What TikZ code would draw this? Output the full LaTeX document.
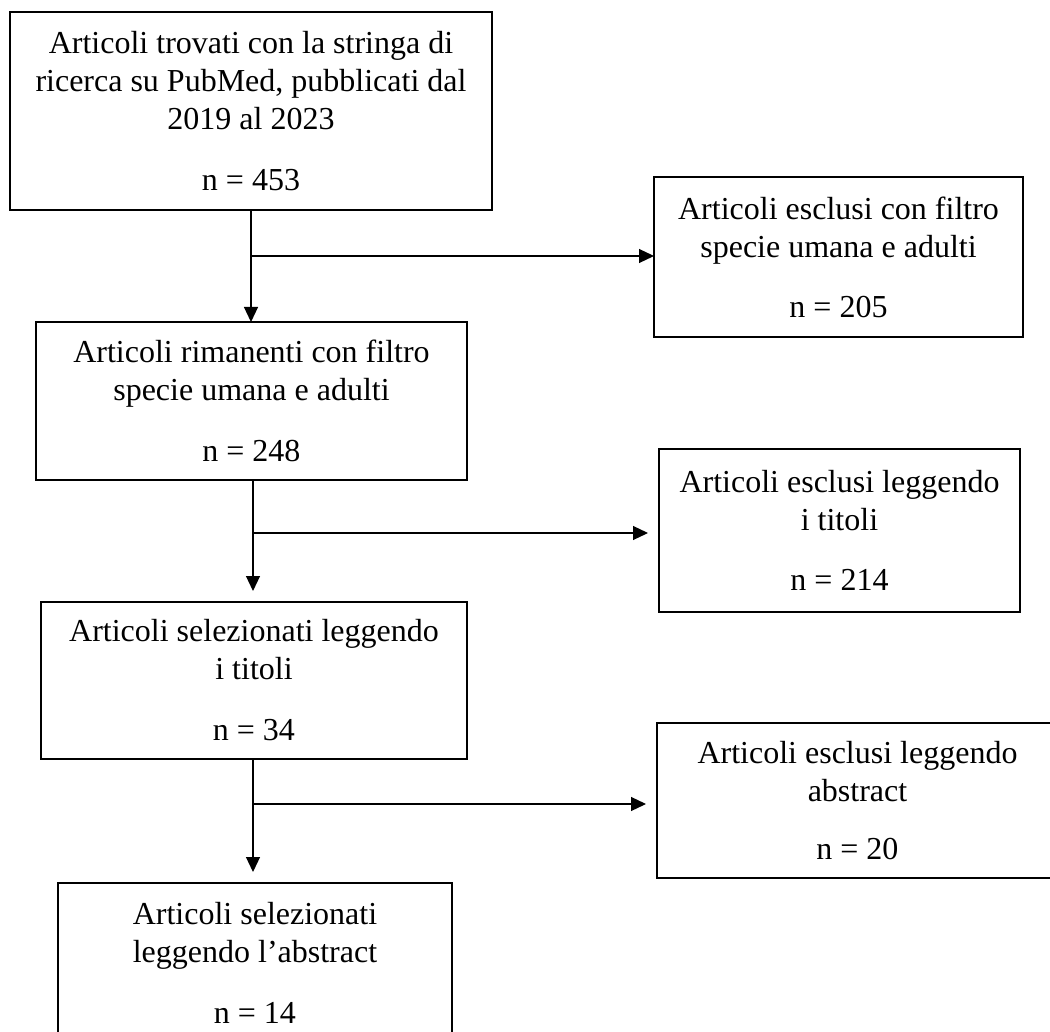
\documentclass[tikz,border=0pt]{standalone}
\usepackage{fontspec}
\setmainfont{Liberation Serif}
\usetikzlibrary{arrows.meta}
\begin{document}
\begin{tikzpicture}[x=0.5pt,y=-0.5pt,
  box/.style={draw=black, line width=1pt, inner sep=0pt, outer sep=0pt, align=center,
    font=\fontsize{16}{19}\selectfont},
  arr/.style={line width=0.6pt, -{Triangle[length=7.5pt,width=7pt]}},
  gap/.style={shorten >=5.5pt}]
\clip (0,0) rectangle (1050,1032);
\node[box, minimum width=241pt, minimum height=99pt] (b1) at (251,111)
  {Articoli trovati con la stringa di\\ricerca su PubMed, pubblicati dal\\2019 al 2023\\[11.5pt]n = 453};
\node[box, minimum width=184.5pt, minimum height=80pt] (b2) at (838.5,257)
  {Articoli esclusi con filtro\\specie umana e adulti\\[11pt]n = 205};
\node[box, minimum width=215.5pt, minimum height=79pt] (b3) at (251.5,401)
  {Articoli rimanenti con filtro\\specie umana e adulti\\[11.5pt]n = 248};
\node[box, minimum width=180.5pt, minimum height=81.5pt] (b4) at (839.5,530.5)
  {Articoli esclusi leggendo\\i titoli\\[11pt]n = 214};
\node[box, minimum width=213pt, minimum height=78.5pt] (b5) at (254,680.5)
  {Articoli selezionati leggendo\\i titoli\\[11.5pt]n = 34};
\node[box, minimum width=200.5pt, minimum height=77.5pt] (b6) at (857.5,800.5)
  {Articoli esclusi leggendo\\abstract\\[10pt]n = 20};
\node[box, minimum width=197pt, minimum height=80pt] (b7) at (255,963)
  {Articoli selezionati\\leggendo l’abstract\\[11.5pt]n = 14};
% junctions on the vertical lines
\coordinate (j1) at (251,256);
\coordinate (j2) at (253,533);
\coordinate (j3) at (253,804);
\draw[arr] (b1.south) -- (b1.south |- b3.north);
\draw[arr, gap] (b3.south -| j2) -- (j2 |- b5.north);
\draw[arr, gap] (b5.south -| j3) -- (j3 |- b7.north);
\draw[arr] (j1) -- (j1 -| b2.west);
\draw[arr, gap] (j2) -- (j2 -| b4.west);
\draw[arr, gap] (j3) -- (j3 -| b6.west);
\end{tikzpicture}
\end{document}
